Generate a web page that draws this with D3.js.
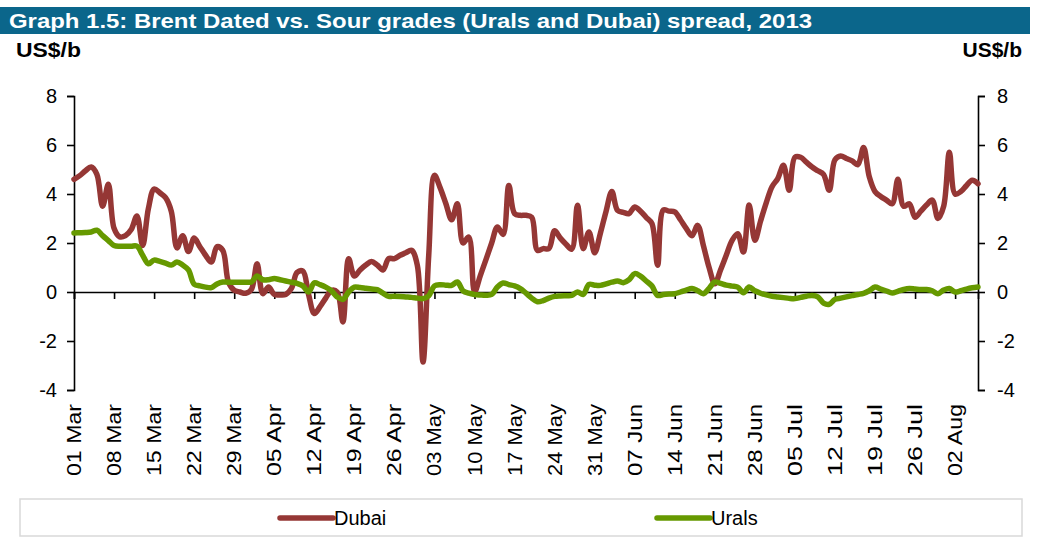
<!DOCTYPE html>
<html>
<head>
<meta charset="utf-8">
<script src="https://cdn.jsdelivr.net/npm/d3@7"></script>
<style>
  body { margin: 0; background: #fff; }
  svg { display: block; font-family: Arial, "Liberation Sans", sans-serif; }
</style>
</head>
<body>
<svg id="chart" width="1037" height="539"></svg>
<script>
// first day of the series, one value per calendar day after it
const startDate = '2013-03-01';
const endDate = '2013-08-06';

const tickLabels = ['01 Mar', '08 Mar', '15 Mar', '22 Mar', '29 Mar', '05 Apr', '12 Apr', '19 Apr',
  '26 Apr', '03 May', '10 May', '17 May', '24 May', '31 May', '07 Jun', '14 Jun', '21 Jun',
  '28 Jun', '05 Jul', '12 Jul', '19 Jul', '26 Jul', '02 Aug'];

const yTicks = [-4, -2, 0, 2, 4, 6, 8];

const seriesNames = ['Dubai', 'Urals'];
const seriesColors = ['#953735', '#669900'];

const dubai = [
  4.6, 4.75, 4.95, 5.1, 4.8, 3.5, 4.4, 2.6, 2.25, 2.3,
  2.55, 3.1, 1.9, 3.4, 4.2, 4.05, 3.85, 3.3, 1.8, 2.3,
  1.65, 2.2, 1.85, 1.5, 1.22, 1.85, 1.7, 0.4, 0.07, 0.0,
  -0.05, 0.1, 1.15, -0.07, 0.2, -0.1, -0.12, -0.1, 0.15, 0.8,
  0.85, -0.1, -0.88, -0.6, -0.25, 0.07, 0.0, -1.22, 1.36, 0.65,
  0.9, 1.1, 1.25, 1.1, 0.9, 1.36, 1.36, 1.5, 1.6, 1.7,
  1.1, -2.86, 1.5, 4.76, 4.25, 3.6, 2.95, 3.6, 2.0, 2.24,
  0.0, 0.66, 1.32, 2.0, 2.65, 2.35, 4.35, 3.2, 3.13, 3.13,
  3.05, 1.7, 1.77, 1.77, 2.5, 2.2, 1.95, 1.75, 3.54, 1.77,
  2.45, 1.6, 2.4, 3.3, 4.1, 3.33, 3.25, 3.2, 3.47, 3.3,
  3.05, 2.8, 1.09, 3.35, 3.3, 3.27, 2.95, 2.6, 2.3, 2.72,
  1.9, 1.0, 0.34, 0.9, 1.5, 2.1, 2.38, 1.63, 3.55, 2.11,
  2.9, 3.65, 4.3, 4.63, 5.17, 4.15, 5.5, 5.5, 5.3, 5.1,
  4.95, 4.8, 4.15, 5.4, 5.55, 5.45, 5.35, 5.2, 5.9, 4.7,
  4.1, 3.9, 3.75, 3.6, 4.6, 3.5, 3.6, 3.05, 3.3, 3.55,
  3.75, 3.0, 3.5, 5.7, 4.0, 4.1, 4.35, 4.56, 4.42
];

const urals = [
  2.41, 2.42, 2.43, 2.45, 2.52, 2.3, 2.1, 1.9, 1.87, 1.87,
  1.87, 1.87, 1.5, 1.15, 1.3, 1.25, 1.18, 1.1, 1.22, 1.1,
  0.9, 0.32, 0.25, 0.2, 0.18, 0.33, 0.41, 0.4, 0.4, 0.4,
  0.4, 0.41, 0.65, 0.5, 0.5, 0.55, 0.5, 0.45, 0.4, 0.35,
  0.25, 0.0, 0.37, 0.3, 0.2, 0.05, -0.2, -0.3, 0.0, 0.2,
  0.18, 0.15, 0.12, 0.1, -0.05, -0.18, -0.17, -0.18, -0.2, -0.22,
  -0.25, -0.27, -0.15, 0.25, 0.3, 0.28, 0.27, 0.41, 0.05, -0.05,
  -0.1, -0.12, -0.13, -0.1, 0.2, 0.37, 0.3, 0.25, 0.14, -0.05,
  -0.25, -0.4, -0.35, -0.25, -0.18, -0.16, -0.15, -0.14, 0.0, -0.1,
  0.31, 0.28, 0.27, 0.33, 0.4, 0.45, 0.38, 0.5, 0.75, 0.65,
  0.45, 0.25, -0.14, -0.1, -0.08, -0.07, 0.0, 0.08, 0.14, 0.05,
  -0.07, 0.15, 0.41, 0.35, 0.28, 0.24, 0.2, -0.03, 0.2, 0.05,
  -0.05, -0.12, -0.17, -0.2, -0.23, -0.26, -0.27, -0.22, -0.17, -0.14,
  -0.2, -0.45, -0.5, -0.3, -0.25, -0.2, -0.15, -0.1, -0.06, 0.05,
  0.2, 0.12, 0.04, -0.04, 0.03, 0.1, 0.14, 0.12, 0.1, 0.1,
  0.05, -0.07, 0.08, 0.14, 0.0, 0.05, 0.12, 0.17, 0.2
];

class SpreadChart {

  constructor(_config) {
    this.config = {
      parentElement: _config.parentElement,
      margin: { left: 74, right: 59, top: 96, bottom: 149 },
      width: 1037,
      height: 539
    };
    this.initVis();
  }

  initVis() {
    let vis = this;

    vis.svg = d3.select(vis.config.parentElement);
    vis.parseDay = d3.timeParse('%Y-%m-%d');
    vis.parseTick = d3.timeParse('%d %b %Y');
    const m = vis.config.margin;

    vis.xScale = d3.scaleTime()
      .domain([vis.parseDay(startDate), vis.parseDay(endDate)])
      .range([m.left, vis.config.width - m.right]);

    vis.yScale = d3.scaleLinear()
      .domain([-4, 8])
      .range([vis.config.height - m.bottom, m.top]);

    // title bar
    vis.svg.append('rect')
      .attr('x', 0).attr('y', 7)
      .attr('width', 1030).attr('height', 27)
      .attr('fill', '#0b668b');

    vis.svg.append('text')
      .attr('x', 9).attr('y', 28)
      .attr('fill', '#fff')
      .attr('font-size', 21)
      .attr('font-weight', 'bold')
      .attr('textLength', 803)
      .attr('lengthAdjust', 'spacingAndGlyphs')
      .text('Graph 1.5: Brent Dated vs. Sour grades (Urals and Dubai) spread, 2013');

    vis.svg.append('text')
      .attr('x', 16).attr('y', 57)
      .attr('font-size', 21).attr('font-weight', 'bold')
      .attr('textLength', 65).attr('lengthAdjust', 'spacingAndGlyphs')
      .text('US$/b');

    vis.svg.append('text')
      .attr('x', 1022).attr('y', 57)
      .attr('text-anchor', 'end')
      .attr('font-size', 21).attr('font-weight', 'bold')
      .text('US$/b');

    vis.renderVis();
    vis.renderLegend();
  }

  renderVis() {
    let vis = this;
    const x = vis.xScale;
    const y = vis.yScale;

    const rows = dubai.map((d, i) => ({
      date: d3.timeDay.offset(vis.parseDay(startDate), i),
      dubai: d,
      urals: urals[i]
    }));

    // left and right value axes, plain hyphen for negatives like the original
    const fmt = d => String(d);
    const leftAxis = d3.axisLeft(y).tickValues(yTicks).tickSize(7).tickPadding(10).tickFormat(fmt);
    const rightAxis = d3.axisRight(y).tickValues(yTicks).tickSize(7).tickPadding(12).tickFormat(fmt);

    vis.svg.append('g')
      .attr('transform', `translate(${x.range()[0]},0)`)
      .call(leftAxis);

    vis.svg.append('g')
      .attr('transform', `translate(${x.range()[1]},0)`)
      .call(rightAxis);

    // date axis sits on the zero line
    const tickDates = tickLabels.map(t => vis.parseTick(t + ' 2013'));
    const xAxis = d3.axisBottom(x).tickValues(tickDates).tickSize(7).tickFormat('');
    vis.svg.append('g')
      .attr('transform', `translate(0,${y(0)})`)
      .call(xAxis);

    vis.svg.selectAll('.domain, .tick line')
      .attr('stroke', '#000')
      .attr('stroke-width', 1.6);

    vis.svg.selectAll('.tick text')
      .attr('font-size', 20)
      .attr('fill', '#000')
      .attr('font-family', 'Arial, "Liberation Sans", sans-serif');

    // rotated date labels below the plot
    vis.svg.append('g')
      .selectAll('text')
      .data(tickDates)
      .join('text')
      .attr('transform', d => `translate(${x(d)},404) rotate(-90)`)
      .attr('text-anchor', 'end')
      .attr('dy', '0.35em')
      .attr('font-size', 20)
      .attr('textLength', 72)
      .attr('lengthAdjust', 'spacingAndGlyphs')
      .text((d, i) => tickLabels[i]);

    const keys = ['dubai', 'urals'];
    keys.forEach((k, i) => {
      const line = d3.line()
        .x(d => x(d.date))
        .y(d => y(d[k]))
        .curve(d3.curveCatmullRom);

      vis.svg.append('path')
        .datum(rows)
        .attr('d', line)
        .attr('fill', 'none')
        .attr('stroke', seriesColors[i])
        .attr('stroke-width', 5.5)
        .attr('stroke-linejoin', 'round')
        .attr('stroke-linecap', 'round');
    });
  }

  renderLegend() {
    let vis = this;

    vis.svg.append('rect')
      .attr('x', 20).attr('y', 499)
      .attr('width', 1002).attr('height', 37)
      .attr('fill', '#fff')
      .attr('stroke', '#d9d9d9')
      .attr('stroke-width', 1.5);

    const legendX = [280, 657];
    legendX.forEach((lx, i) => {
      vis.svg.append('line')
        .attr('x1', lx).attr('x2', lx + 53)
        .attr('y1', 518).attr('y2', 518)
        .attr('stroke', seriesColors[i])
        .attr('stroke-width', 5.5)
        .attr('stroke-linecap', 'round');

      vis.svg.append('text')
        .attr('x', lx + 54).attr('y', 525)
        .attr('font-size', 20)
        .text(seriesNames[i]);
    });
  }
}

new SpreadChart({ parentElement: '#chart' });
</script>
</body>
</html>
